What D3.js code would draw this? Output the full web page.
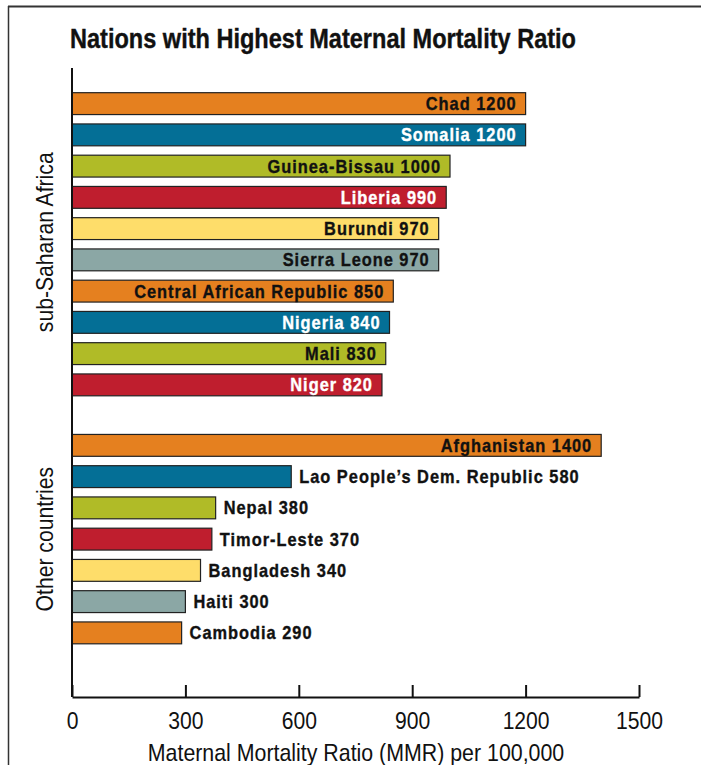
<!DOCTYPE html>
<html>
<head>
<meta charset="utf-8">
<script src="https://cdn.jsdelivr.net/npm/d3@7"></script>
<style>
  body { margin: 0; background: #fff; }
  svg text { font-family: "Liberation Sans", Arial, sans-serif; }
</style>
</head>
<body>
<div id="chart"></div>
<script>
var width = 701, height = 765;

// data
var countries = ["Chad", "Somalia", "Guinea-Bissau", "Liberia", "Burundi", "Sierra Leone",
  "Central African Republic", "Nigeria", "Mali", "Niger",
  "Afghanistan", "Lao People\u2019s Dem. Republic", "Nepal", "Timor-Leste", "Bangladesh", "Haiti", "Cambodia"];
var mmr = [1200, 1200, 1000, 990, 970, 970, 850, 840, 830, 820,
  1400, 580, 380, 370, 340, 300, 290];
var groups = ["sub-Saharan Africa", "sub-Saharan Africa", "sub-Saharan Africa", "sub-Saharan Africa",
  "sub-Saharan Africa", "sub-Saharan Africa", "sub-Saharan Africa", "sub-Saharan Africa",
  "sub-Saharan Africa", "sub-Saharan Africa",
  "Other countries", "Other countries", "Other countries", "Other countries",
  "Other countries", "Other countries", "Other countries"];
var groupNames = ["sub-Saharan Africa", "Other countries"];
var xTicks = [0, 300, 600, 900, 1200, 1500];
var palette = ["#e5801f", "#046f96", "#b0bb27", "#bf1e2e", "#fedd6a", "#8ba7a5"];
var lightText = ["#046f96", "#bf1e2e"];

var data = countries.map(function(c, i) {
  var k = i < 10 ? i : i - 10; // colour cycle restarts for second group
  return { name: c, value: mmr[i], group: groups[i], color: palette[k % 6] };
});

var svg = d3.select("#chart").append("svg")
  .attr("width", width)
  .attr("height", height);

// frame
svg.append("line").attr("x1", 8).attr("x2", width).attr("y1", 6.5).attr("y2", 6.5)
  .attr("stroke", "#333").attr("stroke-width", 2);
svg.append("line").attr("x1", 8.5).attr("x2", 8.5).attr("y1", 6).attr("y2", height)
  .attr("stroke", "#333").attr("stroke-width", 1.5);

svg.append("text")
  .attr("x", 70).attr("y", 48)
  .attr("font-size", 27).attr("font-weight", "bold")
  .attr("textLength", 506).attr("lengthAdjust", "spacingAndGlyphs")
  .attr("fill", "#111")
  .attr("stroke", "#111").attr("stroke-width", 0.4)
  .text("Nations with Highest Maternal Mortality Ratio");

var x = d3.scaleLinear().domain([0, 1500]).range([72, 639]);

// slots: africa rows, one empty slot, other rows
var slots = countries.slice(0, 10).concat(["__gap"]).concat(countries.slice(10)).concat(["__end1", "__end2"]);
var y = d3.scaleBand().domain(slots).range([88, 88 + slots.length * 31.25]).paddingInner(0.3).paddingOuter(0.15);

svg.append("g").selectAll("rect")
  .data(data)
  .enter().append("rect")
  .attr("x", x(0))
  .attr("y", function(d) { return d.group === groupNames[1] ? y(d.name) - 2 : y(d.name); })
  .attr("width", function(d) { return x(d.value) - x(0); })
  .attr("height", y.bandwidth())
  .attr("fill", function(d) { return d.color; })
  .attr("stroke", "#222")
  .attr("stroke-width", 1.2);

function inside(d) { return d.value >= 800; }

svg.append("g").selectAll("text")
  .data(data)
  .enter().append("text")
  .attr("transform", function(d) {
    var tx = inside(d) ? x(d.value) - 9 : x(d.value) + 8;
    var ty = y(d.name) + y.bandwidth() / 2 - (d.group === groupNames[1] ? 2 : 0);
    return "translate(" + tx + "," + ty + ") scale(0.91,1)";
  })
  .attr("dy", "0.36em")
  .attr("text-anchor", function(d) { return inside(d) ? "end" : "start"; })
  .attr("font-size", 18)
  .attr("font-weight", "bold")
  .attr("letter-spacing", 1.1)
  .attr("fill", function(d) {
    return inside(d) && lightText.indexOf(d.color) > -1 ? "#fff" : "#111";
  })
  .attr("stroke", function(d) {
    return inside(d) && lightText.indexOf(d.color) > -1 ? "#fff" : "#111";
  })
  .attr("stroke-width", 0.35)
  .text(function(d) { return d.name + " " + d.value; });

// axes
var axisY = 697;
svg.append("line").attr("x1", 72).attr("x2", 72).attr("y1", 68).attr("y2", axisY)
  .attr("stroke", "#111").attr("stroke-width", 2);

var xAxis = svg.append("g")
  .attr("transform", "translate(0," + axisY + ")")
  .call(d3.axisBottom(x).tickValues(xTicks).tickFormat(d3.format("d"))
    .tickSize(-12).tickSizeOuter(0));
xAxis.select(".domain").attr("stroke", "#111").attr("stroke-width", 2);
xAxis.selectAll(".tick line").attr("stroke", "#111").attr("stroke-width", 2);
xAxis.selectAll(".tick text")
  .attr("font-size", 24)
  .attr("font-family", null)
  .attr("fill", "#111")
  .attr("y", 0).attr("dy", null)
  .attr("transform", "translate(0,32) scale(0.88,1)");

svg.append("text")
  .attr("transform", "translate(356,761) scale(0.89,1)")
  .attr("text-anchor", "middle")
  .attr("font-size", 24)
  .attr("fill", "#111")
  .text("Maternal Mortality Ratio (MMR) per 100,000");

// group labels
groupNames.forEach(function(g) {
  var rows = data.filter(function(d) { return d.group === g; });
  var top = y(rows[0].name), bot = y(rows[rows.length - 1].name) + y.bandwidth();
  svg.append("text")
    .attr("transform", "translate(53," + ((top + bot) / 2 - 2) + ") rotate(-90) scale(0.92,1)")
    .attr("text-anchor", "middle")
    .attr("font-size", 23)
    .attr("fill", "#111")
    .text(g);
});
</script>
</body>
</html>
